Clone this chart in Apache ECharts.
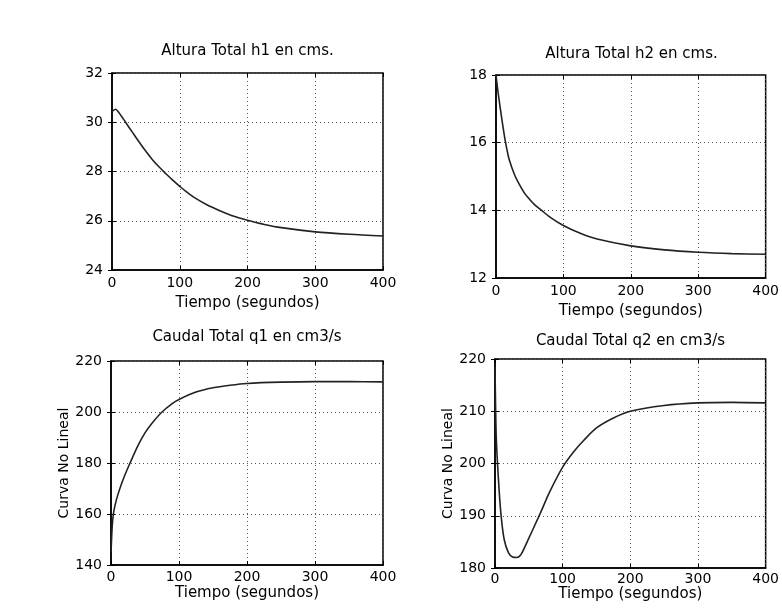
<!DOCTYPE html>
<html>
<head>
<meta charset="utf-8">
<script src="https://cdn.jsdelivr.net/npm/echarts@6/dist/echarts.min.js"></script>
<style>
  html, body { margin: 0; padding: 0; background: #fff; }
  #chart { width: 782px; height: 612px; }
</style>
</head>
<body>
<div id="chart"></div>
<script>
// Simulation of a two-tank system: total heights and total flows versus time.
const xTicks = [0, 100, 200, 300, 400];

const titles = [
  'Altura Total h1 en cms.',
  'Altura Total h2 en cms.',
  'Caudal Total q1 en cm3/s',
  'Caudal Total q2 en cm3/s'
];
const xLabel = 'Tiempo (segundos)';
const yLabel = 'Curva No Lineal';

// h1 (cm)
const tH1 = [0, 5, 10, 20, 30, 40, 50, 60, 70, 80, 90, 100, 110, 120, 140, 160, 180, 200, 225, 250, 300, 350, 400];
const h1 = [30.43, 30.53, 30.4, 30.0, 29.6, 29.2, 28.82, 28.47, 28.17, 27.9, 27.64, 27.4, 27.17, 26.97, 26.65, 26.4, 26.18, 26.02, 25.85, 25.72, 25.55, 25.45, 25.38];

// h2 (cm)
const tH2 = [0, 2, 4, 7.5, 10, 13.5, 17, 20, 27.5, 35, 42.5, 50, 57.5, 67.5, 80, 100, 125, 150, 200, 250, 300, 350, 400];
const h2 = [18.0, 17.66, 17.35, 16.86, 16.52, 16.08, 15.72, 15.47, 15.05, 14.75, 14.5, 14.32, 14.16, 14.0, 13.8, 13.55, 13.32, 13.15, 12.95, 12.83, 12.76, 12.72, 12.7];

// q1 (cm3/s)
const tQ1 = [0, 1, 2, 3.5, 6, 10, 15, 20, 28, 40, 50, 60, 75, 90, 100, 125, 150, 175, 200, 250, 300, 350, 400];
const q1 = [145, 151, 156, 160, 163.5, 167.5, 171.5, 175, 180, 187, 191.8, 195.5, 200, 203.3, 204.9, 207.8, 209.5, 210.5, 211.2, 211.7, 211.9, 211.9, 211.8];

// q2 (cm3/s)
const tQ2 = [0, 1, 2, 5, 8.5, 13.5, 20, 26, 32, 38.5, 48.5, 66, 81, 100, 116, 131, 150, 175, 200, 250, 300, 350, 400];
const q2 = [218.5, 210, 204.5, 197.2, 190.7, 185.5, 182.9, 182.1, 182.0, 182.6, 185.3, 190.2, 194.6, 199.3, 202.2, 204.4, 206.8, 208.7, 210.0, 211.1, 211.6, 211.7, 211.6];

// y ranges: [min, max, interval]
const yRanges = [
  [24, 32, 2],
  [12, 18, 2],
  [140, 220, 20],
  [180, 220, 10]
];

const FONT = 'DejaVu Sans';
const INK = '#000';

// plot rectangles in px: left, top, width, height
const boxes = [
  [112, 73, 271, 197],
  [496, 75, 271, 203],
  [111, 361, 272, 204],
  [495, 359, 271, 209]
];
const titleTops = [44, 47, 330, 334];
const xLabelMargins = [6, 6, 5, 4];
const xNameGaps = [26, 26, 21, 19];

const pairs = (t, v) => t.map((x, i) => [x, v[i]]);
const seriesData = [pairs(tH1, h1), pairs(tH2, h2), pairs(tQ1, q1), pairs(tQ2, q2)];

const dotted = { color: '#555', width: 1, type: [1, 3] };
const tickStyle = { show: true, inside: true, length: 4, lineStyle: { color: INK } };

// main axes (bottom / left) carry labels and grid lines
const xMain = boxes.map((b, i) => ({
  type: 'value', gridIndex: i, position: 'bottom',
  min: xTicks[0], max: xTicks[xTicks.length - 1], interval: 100,
  name: xLabel, nameLocation: 'middle', nameGap: xNameGaps[i],
  nameTextStyle: { fontFamily: FONT, fontSize: 15, color: INK },
  axisLine: { show: true, onZero: false, lineStyle: { color: INK, width: 1.5 } },
  axisTick: tickStyle,
  axisLabel: { fontFamily: FONT, fontSize: 14, color: INK, margin: xLabelMargins[i] },
  splitLine: { show: true, lineStyle: dotted }
}));
const yMain = yRanges.map((r, i) => ({
  type: 'value', gridIndex: i, position: 'left',
  min: r[0], max: r[1], interval: r[2],
  name: i >= 2 ? yLabel : '', nameLocation: 'middle', nameGap: 38,
  nameTextStyle: { fontFamily: FONT, fontSize: 14, color: INK },
  axisLine: { show: true, onZero: false, lineStyle: { color: INK, width: 1.5 } },
  axisTick: tickStyle,
  axisLabel: { fontFamily: FONT, fontSize: 14, color: INK, margin: 9 },
  splitLine: { show: true, lineStyle: dotted }
}));
// mirrored axes (top / right) only draw inward ticks on the box
const xMirror = boxes.map((b, i) => ({
  type: 'value', gridIndex: i, position: 'top',
  min: xTicks[0], max: xTicks[xTicks.length - 1], interval: 100,
  axisLine: { show: false }, axisTick: tickStyle,
  axisLabel: { show: false }, splitLine: { show: false }
}));
const yMirror = yRanges.map((r, i) => ({
  type: 'value', gridIndex: i, position: 'right',
  min: r[0], max: r[1], interval: r[2],
  axisLine: { show: false }, axisTick: tickStyle,
  axisLabel: { show: false }, splitLine: { show: false }
}));

const option = {
  backgroundColor: '#fff',
  animation: false,
  title: titles.map((txt, i) => ({
    text: txt,
    left: boxes[i][0] + boxes[i][2] / 2,
    top: titleTops[i],
    textAlign: 'center',
    padding: 0,
    textStyle: { fontFamily: FONT, fontSize: 15, fontWeight: 'normal', color: INK }
  })),
  grid: boxes.map(b => ({
    left: b[0], top: b[1], width: b[2], height: b[3],
    show: true, borderColor: INK, borderWidth: 1.5, backgroundColor: 'transparent',
    containLabel: false
  })),
  xAxis: xMain.concat(xMirror),
  yAxis: yMain.concat(yMirror),
  series: seriesData.map((d, i) => ({
    type: 'line', xAxisIndex: i, yAxisIndex: i,
    data: d, showSymbol: false, smooth: 0.3,
    lineStyle: { color: '#222', width: 1.6 },
    silent: true
  }))
};

const chart = echarts.init(document.getElementById('chart'), null, { renderer: 'canvas' });
chart.setOption(option);
</script>
</body>
</html>
